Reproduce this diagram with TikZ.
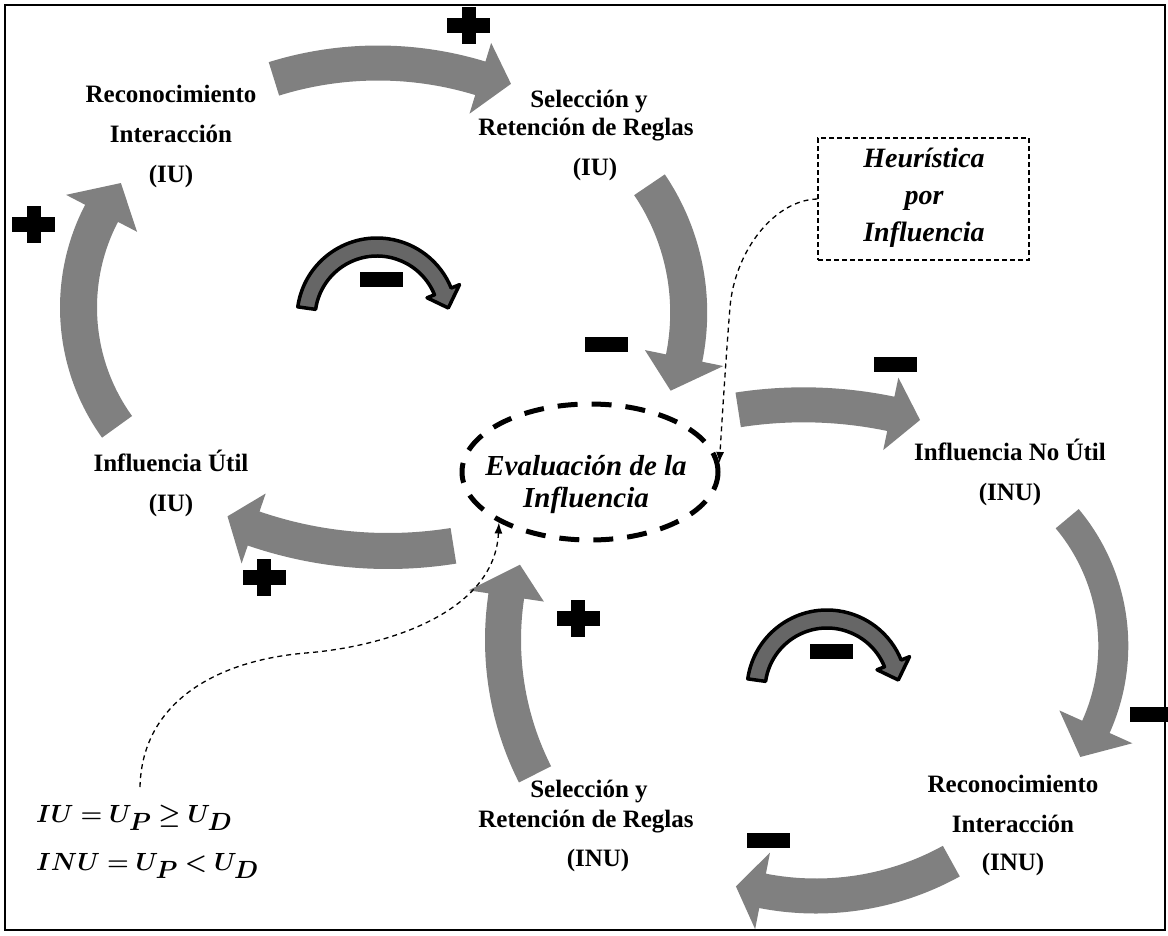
\documentclass[tikz,border=0pt]{standalone}
\usepackage{fontspec}
\setmainfont{Liberation Serif}
\usepackage{bm}
\usetikzlibrary{shapes.geometric,arrows.meta}
\definecolor{agray}{HTML}{808080}
\definecolor{sgray}{HTML}{666666}
% curved block arrow: cx cy R width a1 a2(neck) a3(tip) halfhead tipR
\newcommand\garrow[9]{%
\begin{scope}[shift={(#1,#2)}]
\fill[agray] (#5:{#3+#4/2}) arc[start angle=#5,end angle=#6,radius={#3+#4/2}]
 -- (#6:{#3+#8}) -- (#7:#9) -- (#6:{#3-#8}) -- (#6:{#3-#4/2})
 arc[start angle=#6,end angle=#5,radius={#3-#4/2}] -- cycle;
\end{scope}}
\newcommand\loopsym[2]{%
\begin{scope}[shift={(#1,#2)}]
\filldraw[fill=sgray,draw=black,line width=3.5pt,line join=round]
 (188:80) arc[start angle=188,end angle=338,radius=80] -- (338:89) -- (352:72)
 -- (338:54) -- (338:62) arc[start angle=338,end angle=188,radius=62] -- cycle;
\end{scope}}
\newcommand\plusmark[2]{%
\fill ({#1-21.5},{#2-7.5}) rectangle ({#1+21.5},{#2+7.5});
\fill ({#1-7},{#2-18.5}) rectangle ({#1+7},{#2+18.5});}
\newcommand\minusmark[2]{\fill ({#1-21.5},{#2-7.5}) rectangle ({#1+21.5},{#2+7.5});}
\tikzset{
 lbl/.style={font=\fontsize{25}{30}\selectfont\bfseries, anchor=base, inner sep=0pt},
 ital/.style={font=\fontsize{29}{34}\selectfont\bfseries\itshape, anchor=base, inner sep=0pt},
 formula/.style={font=\fontsize{33}{40}\selectfont, anchor=base west, inner sep=0pt},
 conn/.style={line width=1.3pt, dash pattern=on 5pt off 4pt, -{Latex[length=11pt,width=8pt]}},
}
\begin{document}
\begin{tikzpicture}[x=1pt,y=-1pt]
\useasboundingbox (0,0) rectangle (1168,935);
\fill[white] (0,0) rectangle (1168,935);
\draw[line width=2pt] (5,5) rectangle (1165,930);

% ---- big gray arrows, IU loop
\garrow{378}{413}{350}{35}{252.7}{287}{292}{37}{355}
\garrow{282.5}{307.5}{204}{37}{144.2}{207.5}{217.6}{40}{204}
\garrow{460.7}{312.6}{228}{37}{-34.1}{11.5}{20.4}{40}{224}
\garrow{388.1}{138}{413}{36}{80.9}{109}{113}{37}{411}
% ---- big gray arrows, INU loop
\garrow{803.5}{831.8}{427}{35}{261.2}{281.8}{285.8}{37}{428}
\garrow{915.3}{645.7}{198}{30}{-39.9}{24.2}{34}{40}{199}
\garrow{816}{616}{280}{35}{61.1}{101}{106.5}{39}{282}
\garrow{801}{640}{298}{36}{153.2}{188.5}{195}{38}{291}

% ---- loop symbols
\loopsym{377}{318}
\loopsym{827}{690}

% ---- signs
\plusmark{468.5}{25}
\plusmark{33.5}{224.5}
\plusmark{264}{577}
\plusmark{578}{618}
\minusmark{381.5}{279.5}
\minusmark{606.5}{344.5}
\minusmark{895}{364}
\minusmark{1151}{714.5}
\minusmark{768.5}{840}
\minusmark{831.5}{651.5}

% ---- labels
\node[lbl] (recA1) at (171,102) {Reconocimiento};
\node[lbl] (recA2) at (171,142) {Interacción};
\node[lbl] (recA3) at (171,182) {(IU)};
\node[lbl] (selA1) at (589,107) {Selección y};
\node[lbl] (selA2) at (586,135) {Retención de Reglas};
\node[lbl] (selA3) at (595,175) {(IU)};
\node[lbl] (util1) at (171,471) {Influencia Útil};
\node[lbl] (util2) at (171,511) {(IU)};
\node[lbl] (nout1) at (1010,460) {Influencia No Útil};
\node[lbl] (nout2) at (1010,500) {(INU)};
\node[lbl] (recB1) at (1013,792) {Reconocimiento};
\node[lbl] (recB2) at (1013,832) {Interacción};
\node[lbl] (recB3) at (1013,870) {(INU)};
\node[lbl] (selB1) at (589,797) {Selección y};
\node[lbl] (selB2) at (586,827) {Retención de Reglas};
\node[lbl] (selB3) at (598,866) {(INU)};

% ---- evaluation ellipse
\node[draw, ellipse, line width=5pt, dash pattern=on 20pt off 14pt,
      minimum width=256pt, minimum height=136pt, inner sep=0pt] (eval) at (590,472) {};
\node[ital] (evalt1) at (586,475) {Evaluación de la};
\node[ital] (evalt2) at (586,507) {Influencia};

% ---- heuristic box
\node[draw, line width=1.3pt, dash pattern=on 5pt off 3pt,
      minimum width=211pt, minimum height=122pt, inner sep=0pt] (heur) at (923.5,199) {};
\node[ital, font=\fontsize{28}{34}\selectfont\bfseries\itshape] (heurt1) at (924,167) {Heurística};
\node[ital, font=\fontsize{28}{34}\selectfont\bfseries\itshape] (heurt2) at (924,204) {por};
\node[ital, font=\fontsize{28}{34}\selectfont\bfseries\itshape] (heurt3) at (924,241) {Influencia};

% ---- formulas
\node[formula] (f1) at (36,822) {$\bm{IU = U_P \geq U_D}$};
\node[formula] (f2) at (36,870) {$\bm{INU = U_P < U_D}$};
\coordinate (fstart) at (140,787);

% ---- dashed connectors
\draw[conn] (heur.west) .. controls (775,200) and (735,250) .. (730,307)
  .. controls (726,357) and (722,420) .. (eval.4);
\draw[conn] (fstart) .. controls (142,700) and (220,660) .. (306,653)
  .. controls (392,646) and (495,610) .. (eval.209);
\end{tikzpicture}
\end{document}
